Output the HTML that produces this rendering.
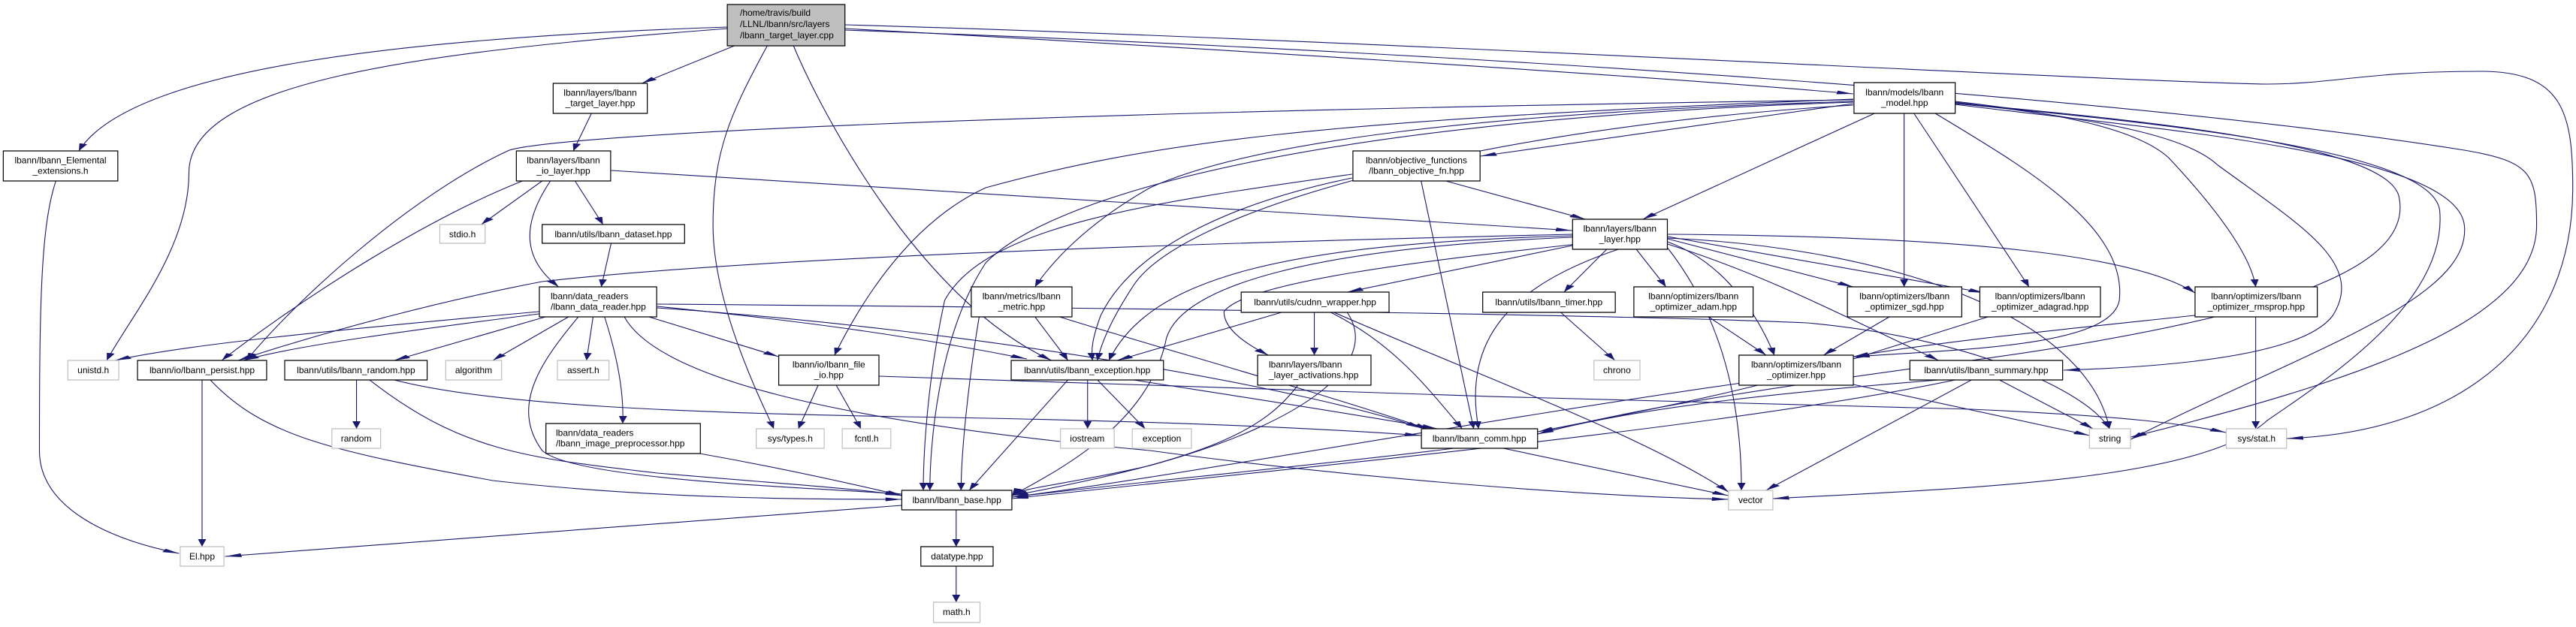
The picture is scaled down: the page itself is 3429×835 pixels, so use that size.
<!DOCTYPE html>
<html><head><meta charset="utf-8"><style>
html,body{margin:0;padding:0;background:#fff;}
svg{display:block;}
text{font-family:"Liberation Sans",Arial,sans-serif;font-size:12px;fill:#000;}
</style></head><body>
<svg width="3429" height="835" viewBox="0 0 3429 835" xmlns="http://www.w3.org/2000/svg">
<defs>
<marker id="a" markerUnits="userSpaceOnUse" markerWidth="10" markerHeight="5" refX="10" refY="2.5" orient="auto">
<path d="M0,0 L10,2.5 L0,5 z" fill="#191970"/>
</marker>
</defs>
<g transform="scale(2.1869,1)">
<g fill="none" stroke="#191970" stroke-width="1.1" vector-effect="non-scaling-stroke" marker-end="url(#a)">
<path vector-effect="non-scaling-stroke" d="M443,36 C250,50 80,90 48,201"/>
<path vector-effect="non-scaling-stroke" d="M443,38 C250,70 115,110 115,230 C115,330 80,420 65,480"/>
<path vector-effect="non-scaling-stroke" d="M447,61 L390.7,111"/>
<path vector-effect="non-scaling-stroke" d="M467,61 C445,150 434,200 434,300 C434,400 460,520 471,571"/>
<path vector-effect="non-scaling-stroke" d="M483,61 C500,150 560,400 640,480"/>
<path vector-effect="non-scaling-stroke" d="M514,38 C700,60 1000,100 1128,125"/>
<path vector-effect="non-scaling-stroke" d="M514,33 C800,50 1300,110 1380,112 C1420,112 1440,95 1510,95 C1560,95 1566,150 1566,250 C1566,450 1500,575 1392,584"/>
<path vector-effect="non-scaling-stroke" d="M514,40 C900,70 1300,130 1500,200 C1540,215 1544,230 1544,300 C1544,420 1450,500 1297,582"/>
<path vector-effect="non-scaling-stroke" d="M1128,133 C600,150 340,180 310,200 C250,260 180,400 150,480"/>
<path vector-effect="non-scaling-stroke" d="M1128,138 L901,208"/>
<path vector-effect="non-scaling-stroke" d="M1141,151 L1000,292"/>
<path vector-effect="non-scaling-stroke" d="M1128,135 C900,150 760,190 700,250 C660,300 640,350 630,382"/>
<path vector-effect="non-scaling-stroke" d="M1128,132 C800,160 700,190 600,250 C550,300 520,420 508,473"/>
<path vector-effect="non-scaling-stroke" d="M1128,136 C800,160 640,260 600,350 C570,450 566,600 566,653"/>
<path vector-effect="non-scaling-stroke" d="M1128,140 C900,170 720,280 690,380 C675,430 670,460 668,480"/>
<path vector-effect="non-scaling-stroke" d="M1159,151 L1159,382"/>
<path vector-effect="non-scaling-stroke" d="M1165,151 L1235,382"/>
<path vector-effect="non-scaling-stroke" d="M1178,151 C1230,220 1295,300 1290,400 C1285,460 1200,465 1128,475"/>
<path vector-effect="non-scaling-stroke" d="M1190,135 C1250,150 1300,170 1320,210 C1350,280 1370,340 1373,382"/>
<path vector-effect="non-scaling-stroke" d="M1190,136 C1280,160 1330,180 1350,220 C1400,300 1440,350 1420,420 C1400,480 1300,490 1256,493"/>
<path vector-effect="non-scaling-stroke" d="M1190,137 C1300,160 1450,190 1460,260 C1470,350 1400,420 1200,480 C1100,510 1000,540 936,578"/>
<path vector-effect="non-scaling-stroke" d="M1190,138 C1320,165 1480,200 1485,280 C1490,400 1420,500 1380,560 C1340,640 1200,650 1079,664"/>
<path vector-effect="non-scaling-stroke" d="M1190,139 C1300,170 1495,200 1500,300 C1505,400 1400,470 1297,585"/>
<path vector-effect="non-scaling-stroke" d="M360,151 L349,201"/>
<path vector-effect="non-scaling-stroke" d="M318,241 C250,300 170,420 135,480"/>
<path vector-effect="non-scaling-stroke" d="M330,241 L293,299"/>
<path vector-effect="non-scaling-stroke" d="M350,241 L367,299"/>
<path vector-effect="non-scaling-stroke" d="M335,241 C320,290 315,340 340,382"/>
<path vector-effect="non-scaling-stroke" d="M372,227 L957,307"/>
<path vector-effect="non-scaling-stroke" d="M372,324 L366,382"/>
<path vector-effect="non-scaling-stroke" d="M34,241 C25,300 24,400 24,600 C24,680 70,720 109,737"/>
<path vector-effect="non-scaling-stroke" d="M123,506 L123,728"/>
<path vector-effect="non-scaling-stroke" d="M128,506 C160,580 200,600 300,640 C400,665 500,665 549,665"/>
<path vector-effect="non-scaling-stroke" d="M217,506 L217,571"/>
<path vector-effect="non-scaling-stroke" d="M225,506 C280,600 320,610 400,630 C480,645 520,650 549,660"/>
<path vector-effect="non-scaling-stroke" d="M240,506 C300,540 420,550 550,555 C700,560 800,570 865,580"/>
<path vector-effect="non-scaling-stroke" d="M328,415 C200,440 110,460 70,480"/>
<path vector-effect="non-scaling-stroke" d="M328,418 C250,440 180,460 148,480"/>
<path vector-effect="non-scaling-stroke" d="M332,422 L240,480"/>
<path vector-effect="non-scaling-stroke" d="M346,422 L300,480"/>
<path vector-effect="non-scaling-stroke" d="M361,422 L357,480"/>
<path vector-effect="non-scaling-stroke" d="M368,422 C375,470 380,520 379,564"/>
<path vector-effect="non-scaling-stroke" d="M395,422 L474,475"/>
<path vector-effect="non-scaling-stroke" d="M352,422 C330,480 310,540 330,600 C350,640 500,650 549,658"/>
<path vector-effect="non-scaling-stroke" d="M400,408 C500,430 560,450 625,478"/>
<path vector-effect="non-scaling-stroke" d="M400,410 C600,440 800,520 865,570"/>
<path vector-effect="non-scaling-stroke" d="M380,422 C400,500 500,560 700,600 C800,630 950,660 1052,665"/>
<path vector-effect="non-scaling-stroke" d="M400,405 C700,410 1000,420 1100,430 C1200,450 1270,520 1284,571"/>
<path vector-effect="non-scaling-stroke" d="M498,513 L486,571"/>
<path vector-effect="non-scaling-stroke" d="M509,513 L524,571"/>
<path vector-effect="non-scaling-stroke" d="M535,501 C700,515 1000,535 1200,545 C1300,555 1330,565 1355,576"/>
<path vector-effect="non-scaling-stroke" d="M426,604 C480,625 520,645 549,660"/>
<path vector-effect="non-scaling-stroke" d="M880,241 L965,292"/>
<path vector-effect="non-scaling-stroke" d="M823,232 C700,270 600,300 575,400 C565,500 562,600 562,653"/>
<path vector-effect="non-scaling-stroke" d="M823,237 C750,270 690,330 670,420 C665,450 664,465 665,480"/>
<path vector-effect="non-scaling-stroke" d="M865,241 L897,571"/>
<path vector-effect="non-scaling-stroke" d="M957,312 C700,325 450,345 330,375 C270,400 200,440 145,480"/>
<path vector-effect="non-scaling-stroke" d="M957,314 C780,325 700,370 675,480"/>
<path vector-effect="non-scaling-stroke" d="M957,316 C800,330 720,380 710,450 C700,560 650,620 616,660"/>
<path vector-effect="non-scaling-stroke" d="M957,327 L820,389"/>
<path vector-effect="non-scaling-stroke" d="M978,332 L952,389"/>
<path vector-effect="non-scaling-stroke" d="M996,332 L1014,382"/>
<path vector-effect="non-scaling-stroke" d="M1015,318 L1128,382"/>
<path vector-effect="non-scaling-stroke" d="M1015,315 L1208,390"/>
<path vector-effect="non-scaling-stroke" d="M1015,312 C1200,315 1300,340 1336,390"/>
<path vector-effect="non-scaling-stroke" d="M1015,322 C1050,350 1070,420 1080,473"/>
<path vector-effect="non-scaling-stroke" d="M1015,325 C1080,370 1130,430 1180,480"/>
<path vector-effect="non-scaling-stroke" d="M960,325 C900,340 760,370 745,415 C745,440 760,460 772,473"/>
<path vector-effect="non-scaling-stroke" d="M985,332 C920,380 890,450 900,571"/>
<path vector-effect="non-scaling-stroke" d="M1015,317 C1150,330 1270,420 1284,571"/>
<path vector-effect="non-scaling-stroke" d="M1015,330 C1040,400 1060,500 1060,653"/>
<path vector-effect="non-scaling-stroke" d="M630,422 L650,480"/>
<path vector-effect="non-scaling-stroke" d="M596,422 C590,500 585,600 585,653"/>
<path vector-effect="non-scaling-stroke" d="M645,422 C700,460 800,520 870,572"/>
<path vector-effect="non-scaling-stroke" d="M780,416 L680,480"/>
<path vector-effect="non-scaling-stroke" d="M800,416 L800,473"/>
<path vector-effect="non-scaling-stroke" d="M810,416 C850,460 870,520 890,571"/>
<path vector-effect="non-scaling-stroke" d="M820,416 C840,480 800,560 700,620 C650,645 620,650 616,660"/>
<path vector-effect="non-scaling-stroke" d="M812,416 C900,500 1000,580 1052,655"/>
<path vector-effect="non-scaling-stroke" d="M950,416 L983,480"/>
<path vector-effect="non-scaling-stroke" d="M1040,422 L1075,473"/>
<path vector-effect="non-scaling-stroke" d="M1150,422 L1110,473"/>
<path vector-effect="non-scaling-stroke" d="M1210,422 L1128,478"/>
<path vector-effect="non-scaling-stroke" d="M1336,420 C1250,440 1180,455 1128,475"/>
<path vector-effect="non-scaling-stroke" d="M1373,422 L1373,571"/>
<path vector-effect="non-scaling-stroke" d="M790,513 C770,570 740,610 616,660"/>
<path vector-effect="non-scaling-stroke" d="M662,506 L662,571"/>
<path vector-effect="non-scaling-stroke" d="M668,506 L697,571"/>
<path vector-effect="non-scaling-stroke" d="M650,506 L590,653"/>
<path vector-effect="non-scaling-stroke" d="M690,506 C760,530 820,550 875,571"/>
<path vector-effect="non-scaling-stroke" d="M885,597 C800,620 700,640 616,662"/>
<path vector-effect="non-scaling-stroke" d="M915,597 L1052,660"/>
<path vector-effect="non-scaling-stroke" d="M1070,513 C1020,540 970,560 936,575"/>
<path vector-effect="non-scaling-stroke" d="M1060,510 C900,560 700,640 616,662"/>
<path vector-effect="non-scaling-stroke" d="M1128,512 L1272,580"/>
<path vector-effect="non-scaling-stroke" d="M1180,506 C1100,520 1000,540 936,578"/>
<path vector-effect="non-scaling-stroke" d="M1190,506 C1050,570 800,620 616,664"/>
<path vector-effect="non-scaling-stroke" d="M1200,506 L1075,653"/>
<path vector-effect="non-scaling-stroke" d="M1217,506 L1274,571"/>
<path vector-effect="non-scaling-stroke" d="M549,673 L137,741"/>
<path vector-effect="non-scaling-stroke" d="M582,679 L582,728"/>
<path vector-effect="non-scaling-stroke" d="M582,754 L582,802"/>
</g>
<g fill="#fff" stroke="#000" stroke-width="1.2">
<rect vector-effect="non-scaling-stroke" x="442.7" y="6" width="71.6" height="55" fill="#bfbfbf"/>
<rect vector-effect="non-scaling-stroke" x="336.7" y="111" width="57.3" height="40"/>
<rect vector-effect="non-scaling-stroke" x="2" y="201" width="69.7" height="40"/>
<rect vector-effect="non-scaling-stroke" x="314.3" y="201" width="57.4" height="40"/>
<rect vector-effect="non-scaling-stroke" x="330" y="299" width="86.7" height="25"/>
<rect vector-effect="non-scaling-stroke" x="328.3" y="382" width="71.4" height="40"/>
<rect vector-effect="non-scaling-stroke" x="83.7" y="480" width="78.6" height="26"/>
<rect vector-effect="non-scaling-stroke" x="173.3" y="480" width="86.7" height="26"/>
<rect vector-effect="non-scaling-stroke" x="474" y="473" width="61" height="40"/>
<rect vector-effect="non-scaling-stroke" x="332.3" y="564" width="94" height="40"/>
<rect vector-effect="non-scaling-stroke" x="823.5" y="201" width="77.4" height="40"/>
<rect vector-effect="non-scaling-stroke" x="957.2" y="292" width="57.7" height="40"/>
<rect vector-effect="non-scaling-stroke" x="591.2" y="382" width="61.3" height="40"/>
<rect vector-effect="non-scaling-stroke" x="755.5" y="389" width="90" height="27"/>
<rect vector-effect="non-scaling-stroke" x="902.5" y="389" width="80.7" height="27"/>
<rect vector-effect="non-scaling-stroke" x="994.5" y="382" width="72.6" height="40"/>
<rect vector-effect="non-scaling-stroke" x="615.5" y="480" width="92.7" height="26"/>
<rect vector-effect="non-scaling-stroke" x="765.5" y="473" width="69" height="40"/>
<rect vector-effect="non-scaling-stroke" x="865.2" y="571" width="70.7" height="26"/>
<rect vector-effect="non-scaling-stroke" x="548.9" y="653" width="67" height="26"/>
<rect vector-effect="non-scaling-stroke" x="560.5" y="728" width="44" height="26"/>
<rect vector-effect="non-scaling-stroke" x="1128.5" y="110" width="61.6" height="41"/>
<rect vector-effect="non-scaling-stroke" x="1124.5" y="382" width="69.6" height="40"/>
<rect vector-effect="non-scaling-stroke" x="1205.1" y="382" width="73.4" height="40"/>
<rect vector-effect="non-scaling-stroke" x="1336.1" y="382" width="74.4" height="40"/>
<rect vector-effect="non-scaling-stroke" x="1058.5" y="473" width="69.6" height="40"/>
<rect vector-effect="non-scaling-stroke" x="1162.5" y="480" width="93" height="26"/>
</g>
<g fill="#fff" stroke="#bfbfbf" stroke-width="1.2">
<rect vector-effect="non-scaling-stroke" x="267.7" y="299" width="27.6" height="25"/>
<rect vector-effect="non-scaling-stroke" x="41.3" y="480" width="31" height="26"/>
<rect vector-effect="non-scaling-stroke" x="271.3" y="480" width="34" height="26"/>
<rect vector-effect="non-scaling-stroke" x="339.3" y="480" width="31.4" height="26"/>
<rect vector-effect="non-scaling-stroke" x="202" y="571" width="29.7" height="26"/>
<rect vector-effect="non-scaling-stroke" x="460.3" y="571" width="41.4" height="26"/>
<rect vector-effect="non-scaling-stroke" x="512.7" y="571" width="29.5" height="26"/>
<rect vector-effect="non-scaling-stroke" x="109.7" y="728" width="26.6" height="26"/>
<rect vector-effect="non-scaling-stroke" x="970.2" y="480" width="28" height="26"/>
<rect vector-effect="non-scaling-stroke" x="645.5" y="571" width="32.7" height="26"/>
<rect vector-effect="non-scaling-stroke" x="689.2" y="571" width="36" height="26"/>
<rect vector-effect="non-scaling-stroke" x="568.2" y="802" width="28.3" height="27"/>
<rect vector-effect="non-scaling-stroke" x="1271.8" y="571" width="25" height="26"/>
<rect vector-effect="non-scaling-stroke" x="1355.1" y="571" width="36.7" height="26"/>
<rect vector-effect="non-scaling-stroke" x="1052.1" y="653" width="27" height="26"/>
</g>
</g>
<g>
<text x="985" y="21">/home/travis/build</text>
<text x="985" y="36">/LLNL/lbann/src/layers</text>
<text x="985" y="51">/lbann_target_layer.cpp</text>
</g>
<g text-anchor="middle">
<text x="799" y="127.5">lbann/layers/lbann</text><text x="799" y="141.5">_target_layer.hpp</text>
<text x="80.5" y="217.5">lbann/lbann_Elemental</text><text x="80.5" y="231.5">_extensions.h</text>
<text x="750" y="217.5">lbann/layers/lbann</text><text x="750" y="231.5">_io_layer.hpp</text>
<text x="615.6" y="316">stdio.h</text>
<text x="816.4" y="316">lbann/utils/lbann_dataset.hpp</text>
<text x="124.2" y="497">unistd.h</text>
<text x="269" y="497">lbann/io/lbann_persist.hpp</text>
<text x="473.9" y="497">lbann/utils/lbann_random.hpp</text>
<text x="630.5" y="497">algorithm</text>
<text x="776.3" y="497">assert.h</text>
<text x="1103.3" y="489.5">lbann/io/lbann_file</text><text x="1103.3" y="503.5">_io.hpp</text>
<text x="474.1" y="588">random</text>
<text x="1051.9" y="588">sys/types.h</text>
<text x="1153.6" y="588">fcntl.h</text>
<text x="269" y="745">El.hpp</text>
<text x="1885.5" y="217.5">lbann/objective_functions</text><text x="1885.5" y="231.5">/lbann_objective_fn.hpp</text>
<text x="2156.3" y="308.5">lbann/layers/lbann</text><text x="2156.3" y="322.5">_layer.hpp</text>
<text x="1359.8" y="398.5">lbann/metrics/lbann</text><text x="1359.8" y="412.5">_metric.hpp</text>
<text x="1750.6" y="406.5">lbann/utils/cudnn_wrapper.hpp</text>
<text x="2061.8" y="406.5">lbann/utils/lbann_timer.hpp</text>
<text x="2254.3" y="398.5">lbann/optimizers/lbann</text><text x="2254.3" y="412.5">_optimizer_adam.hpp</text>
<text x="1447.3" y="497">lbann/utils/lbann_exception.hpp</text>
<text x="2152.4" y="497">chrono</text>
<text x="1447.3" y="588">iostream</text>
<text x="1546.6" y="588">exception</text>
<text x="1969.3" y="588">lbann/lbann_comm.hpp</text>
<text x="1273.7" y="670">lbann/lbann_base.hpp</text>
<text x="1273.9" y="745">datatype.hpp</text>
<text x="1273.4" y="819">math.h</text>
<text x="2535.2" y="127">lbann/models/lbann</text><text x="2535.2" y="141">_model.hpp</text>
<text x="2535.2" y="398.5">lbann/optimizers/lbann</text><text x="2535.2" y="412.5">_optimizer_sgd.hpp</text>
<text x="2715.7" y="398.5">lbann/optimizers/lbann</text><text x="2715.7" y="412.5">_optimizer_adagrad.hpp</text>
<text x="3003.3" y="398.5">lbann/optimizers/lbann</text><text x="3003.3" y="412.5">_optimizer_rmsprop.hpp</text>
<text x="2391" y="489.5">lbann/optimizers/lbann</text><text x="2391" y="503.5">_optimizer.hpp</text>
<text x="2644" y="497">lbann/utils/lbann_summary.hpp</text>
<text x="2808.6" y="588">string</text>
<text x="3003.7" y="588">sys/stat.h</text>
<text x="2330.3" y="670">vector</text>
</g>
<g>
<text x="733" y="398.5">lbann/data_readers</text><text x="733" y="412.5">/lbann_data_reader.hpp</text>
<text x="740" y="580.5">lbann/data_readers</text><text x="740" y="594.5">/lbann_image_preprocessor.hpp</text>
<text x="1689" y="489.5">lbann/layers/lbann</text><text x="1689" y="503.5">_layer_activations.hpp</text>
</g>
</svg>
</body></html>
